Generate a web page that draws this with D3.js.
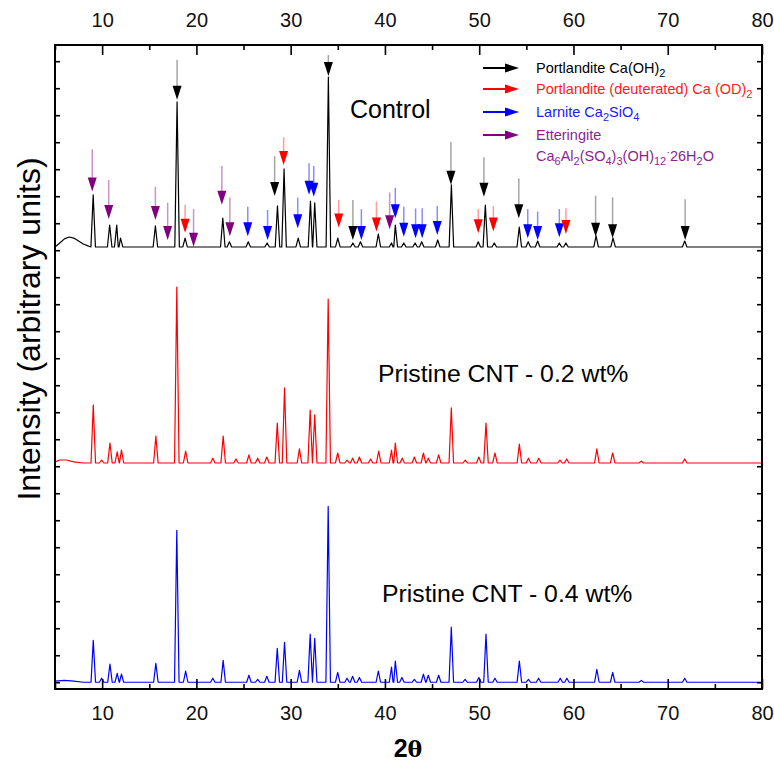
<!DOCTYPE html>
<html>
<head>
<meta charset="utf-8">
<script src="https://cdn.jsdelivr.net/npm/d3@7"></script>
<style>
  body { margin: 0; background: #fff; }
  text { font-family: "Liberation Sans", Arial, sans-serif; }
</style>
</head>
<body>
<svg id="chart" width="774" height="765"></svg>
<script>
// 2-theta tick labels
var xTicks = [10, 20, 30, 40, 50, 60, 70, 80];

// offsets of the stacked patterns (arbitrary units)
var offsets = { control: 1612, cnt02: 812, cnt04: 0 };

// background hump at low angle [2theta, intensity]
var controlBg = [[5, 0], [5.5, 15], [6.0, 30], [6.5, 37], [7.0, 33], [7.5, 22], [8.0, 11], [8.5, 4], [80, 0]];
var cnt02Bg = [[5, 4], [5.5, 11], [6.2, 11], [7.0, 4], [8.0, 0], [80, 0]];
var cnt04Bg = [[5, 4], [6.0, 7], [7.0, 4], [8.0, 0], [80, 0]];

// peaks [2theta, height]
var controlPeaks = [[9.05, 193], [10.8, 81], [11.55, 81], [11.95, 33], [15.65, 78], [17.95, 537], [18.8, 33],
  [22.8, 107], [23.5, 19], [25.5, 19], [27.5, 15], [28.6, 152], [29.3, 289], [30.8, 33], [32.1, 170],
  [32.55, 163], [34.0, 629], [35.0, 33], [36.6, 15], [37.4, 19], [39.3, 48], [40.7, 15], [41.1, 81],
  [42.0, 15], [43.2, 15], [43.9, 19], [45.6, 26], [47.05, 230], [49.9, 19], [50.65, 155], [51.6, 15],
  [54.25, 74], [55.2, 19], [56.2, 22], [58.5, 15], [59.2, 15], [62.4, 41], [64.2, 33], [71.8, 22]];

var cnt02Peaks = [[9.06, 215], [9.95, 11], [10.83, 74], [11.6, 41], [12.05, 48], [15.7, 100], [17.92, 651],
  [18.86, 44], [21.74, 18], [22.84, 100], [24.2, 15], [25.57, 30], [26.5, 18], [27.47, 22], [28.58, 148],
  [29.35, 278], [30.93, 52], [32.07, 196], [32.55, 178], [33.98, 607], [34.99, 37], [35.98, 11], [36.57, 18],
  [37.29, 22], [38.48, 15], [39.34, 44], [40.7, 48], [41.1, 74], [41.83, 18], [43.12, 22], [44.08, 37],
  [44.6, 18], [45.7, 30], [47.04, 204], [48.52, 11], [49.96, 22], [50.72, 148], [51.67, 37], [54.26, 70],
  [55.22, 18], [56.32, 18], [58.57, 11], [59.28, 15], [62.48, 52], [64.16, 37], [67.2, 7], [71.8, 15]];

var cnt04Peaks = [[9.06, 155], [9.95, 15], [10.83, 67], [11.6, 33], [12.05, 30], [15.7, 70], [17.92, 563],
  [18.86, 41], [21.74, 15], [22.84, 81], [25.57, 26], [26.5, 11], [27.47, 22], [28.58, 126], [29.35, 148],
  [30.93, 44], [32.07, 178], [32.55, 163], [33.98, 651], [34.99, 37], [35.98, 15], [36.57, 22], [37.29, 18],
  [39.3, 41], [40.7, 56], [41.1, 78], [41.8, 18], [43.12, 11], [44.08, 30], [44.6, 26], [45.7, 26],
  [47.04, 204], [48.5, 11], [49.96, 18], [50.72, 178], [51.67, 15], [54.26, 78], [55.22, 11], [56.3, 15],
  [58.6, 15], [59.3, 15], [62.48, 48], [64.16, 37], [67.2, 7], [71.8, 15]];

// phase markers [2theta, tip, tail] in the same intensity units
var portlanditeArrows = [[17.95, 2157, 2305], [28.3, 1801, 1949], [34.0, 2245, 2323], [36.6, 1638, 1786],
  [47.0, 1842, 2002], [50.5, 1798, 1944], [54.2, 1718, 1866], [62.35, 1650, 1802], [64.15, 1644, 1796],
  [71.85, 1638, 1789]];
var deuteratedArrows = [[18.8, 1665, 1768], [29.25, 1916, 2018], [35.1, 1684, 1786], [39.1, 1669, 1780],
  [49.9, 1663, 1753], [51.5, 1669, 1764], [59.2, 1660, 1755]];
var larniteArrows = [[25.45, 1652, 1761], [27.55, 1638, 1749], [30.75, 1681, 1795], [31.95, 1805, 1922],
  [32.45, 1798, 1912], [37.5, 1638, 1752], [41.1, 1718, 1831], [42.0, 1650, 1761], [43.25, 1644, 1755],
  [43.95, 1644, 1755], [45.55, 1656, 1764], [55.15, 1644, 1752], [56.2, 1638, 1743], [58.5, 1648, 1753]];
var ettringiteArrows = [[8.95, 1817, 1974], [10.7, 1716, 1860], [15.65, 1712, 1835], [16.95, 1638, 1776],
  [19.7, 1613, 1753], [22.7, 1768, 1912], [23.55, 1652, 1795], [40.5, 1678, 1814]];

var svg = d3.select("#chart");
var margin = { top: 45, left: 55, right: 12, bottom: 76 };
var W = 774, H = 765;

var x = d3.scaleLinear().domain([5, 80]).range([margin.left, W - margin.right]);
var y = d3.scaleLinear().domain([-25, 2360]).range([H - margin.bottom, margin.top]);

// build a polyline from background + peaks
var peakHalf = 0.24;
function tracePoints(bg, peaks, off) {
  var pts = bg.map(function (d) { return [d[0], d[1] + off]; });
  peaks.forEach(function (p) {
    pts.push([p[0] - peakHalf, off]);
    pts.push([p[0], off + p[1]]);
    pts.push([p[0] + peakHalf, off]);
  });
  pts.sort(function (a, b) { return a[0] - b[0]; });
  return pts;
}

var line = d3.line().x(function (d) { return x(d[0]); }).y(function (d) { return y(d[1]); });

var series = [
  { pts: tracePoints(controlBg, controlPeaks, offsets.control), color: "#000000" },
  { pts: tracePoints(cnt02Bg, cnt02Peaks, offsets.cnt02), color: "#ff0000" },
  { pts: tracePoints(cnt04Bg, cnt04Peaks, offsets.cnt04), color: "#0000ff" }
];

svg.selectAll(".trace").data(series).enter().append("path")
  .attr("class", "trace")
  .attr("d", function (d) { return line(d.pts); })
  .attr("fill", "none")
  .attr("stroke", function (d) { return d.color; })
  .attr("stroke-width", 1.2)
  .attr("stroke-linejoin", "round");

// arrows
var headH = 14, headW = 9;
function drawArrows(data, color, tailColor) {
  var g = svg.append("g");
  g.selectAll("line").data(data).enter().append("line")
    .attr("x1", function (d) { return x(d[0]); })
    .attr("x2", function (d) { return x(d[0]); })
    .attr("y1", function (d) { return y(d[2]); })
    .attr("y2", function (d) { return y(d[1]) - headH + 1; })
    .attr("stroke", tailColor)
    .attr("stroke-width", 1.5);
  g.selectAll("path").data(data).enter().append("path")
    .attr("d", function (d) {
      var cx = x(d[0]), ty = y(d[1]);
      return "M" + (cx - headW / 2) + "," + (ty - headH) + "L" + (cx + headW / 2) + "," + (ty - headH) + "L" + cx + "," + ty + "Z";
    })
    .attr("fill", color);
}
drawArrows(ettringiteArrows, "#800080", "#c796c7");
drawArrows(larniteArrows, "#0000ff", "#8c8cff");
drawArrows(deuteratedArrows, "#ff0000", "#ff9c9c");
drawArrows(portlanditeArrows, "#000000", "#a6a6a6");

// axes
var majors = xTicks, minors = d3.range(5, 80, 10);
function styleAxis(g) {
  g.select(".domain").remove();
  g.selectAll("line").attr("stroke", "#000").attr("stroke-width", 1.6);
  g.selectAll("text").attr("font-size", 20).attr("fill", "#111")
    .attr("font-family", "'Liberation Sans', Arial, sans-serif");
}
svg.append("g").attr("transform", "translate(0," + (H - margin.bottom) + ")")
  .call(d3.axisBottom(x).tickValues(majors).tickSizeInner(-10).tickSizeOuter(0).tickPadding(17).tickFormat(d3.format("d")))
  .call(styleAxis);
svg.append("g").attr("transform", "translate(0," + (H - margin.bottom) + ")")
  .call(d3.axisBottom(x).tickValues(minors).tickSizeInner(-5).tickSizeOuter(0).tickFormat(""))
  .call(styleAxis);
svg.append("g").attr("transform", "translate(0," + margin.top + ")")
  .call(d3.axisTop(x).tickValues(majors).tickSizeInner(-10).tickSizeOuter(0).tickPadding(18).tickFormat(d3.format("d")))
  .call(styleAxis);
svg.append("g").attr("transform", "translate(0," + margin.top + ")")
  .call(d3.axisTop(x).tickValues(minors).tickSizeInner(-5).tickSizeOuter(0).tickFormat(""))
  .call(styleAxis);

var yTicks = d3.range(0, 2301, 100);
svg.append("g").attr("transform", "translate(" + margin.left + ",0)")
  .call(d3.axisLeft(y).tickValues(yTicks).tickSizeInner(-5).tickSizeOuter(0).tickFormat(""))
  .call(styleAxis);
svg.append("g").attr("transform", "translate(" + (W - margin.right) + ",0)")
  .call(d3.axisRight(y).tickValues(yTicks).tickSizeInner(-5).tickSizeOuter(0).tickFormat(""))
  .call(styleAxis);

// frame
svg.append("rect")
  .attr("x", margin.left).attr("y", margin.top)
  .attr("width", W - margin.left - margin.right)
  .attr("height", H - margin.top - margin.bottom)
  .attr("fill", "none").attr("stroke", "#000").attr("stroke-width", 2);

// axis titles
var xt = svg.append("text").attr("x", 408).attr("y", 757).attr("text-anchor", "middle")
  .attr("font-size", 25).attr("fill", "#000");
xt.append("tspan").attr("font-weight", "bold").text("2");
xt.append("tspan").attr("font-weight", "bold").attr("font-family", "'DejaVu Serif', serif").attr("font-size", 22).text("θ");

svg.append("text").attr("transform", "translate(40,329) rotate(-90)")
  .attr("text-anchor", "middle").attr("font-size", 32).attr("fill", "#000")
  .text("Intensity (arbitrary units)");

// sample labels
svg.append("text").attr("x", 350).attr("y", 118).attr("font-size", 25).text("Control");
svg.append("text").attr("x", 378).attr("y", 382).attr("font-size", 24.8).text("Pristine CNT - 0.2 wt%");
svg.append("text").attr("x", 382).attr("y", 602).attr("font-size", 24.8).text("Pristine CNT - 0.4 wt%");

// legend
var legend = [
  { color: "#000000", text: "#000000", y: 68, parts: [["Portlandite Ca(OH)", 0], ["2", 1]] },
  { color: "#ff0000", text: "#ff1a1a", y: 89, parts: [["Portlandite (deuterated) Ca (OD)", 0], ["2", 1]] },
  { color: "#0000ff", text: "#1a1aff", y: 112, parts: [["Larnite Ca", 0], ["2", 1], ["SiO", 0], ["4", 1]] },
  { color: "#800080", text: "#8e1f8e", y: 135, parts: [["Etteringite", 0]] }
];
var formula = [["Ca", 0], ["6", 1], ["Al", 0], ["2", 1], ["(SO", 0], ["4", 1], [")", 0], ["3", 1],
  ["(OH)", 0], ["12", 1], ["·", 2], ["26H", 0], ["2", 1], ["O", 0]];

function writeParts(t, parts) {
  var shift = 0;
  parts.forEach(function (p) {
    var target = p[1] === 1 ? 4 : (p[1] === 2 ? -5 : 0);
    t.append("tspan").attr("dy", target - shift)
      .attr("font-size", p[1] ? 11 : 14.5).text(p[0]);
    shift = target;
  });
}
legend.forEach(function (L) {
  svg.append("line").attr("x1", 483).attr("x2", 507).attr("y1", L.y).attr("y2", L.y)
    .attr("stroke", L.color).attr("stroke-width", 2);
  svg.append("path").attr("d", "M505," + (L.y - 4.5) + "L519," + L.y + "L505," + (L.y + 4.5) + "Z")
    .attr("fill", L.color);
  var t = svg.append("text").attr("x", 536).attr("y", L.y + 4.5).attr("fill", L.text);
  writeParts(t, L.parts);
});
var ft = svg.append("text").attr("x", 536).attr("y", 161).attr("fill", "#8e1f8e");
writeParts(ft, formula);
</script>
</body>
</html>
